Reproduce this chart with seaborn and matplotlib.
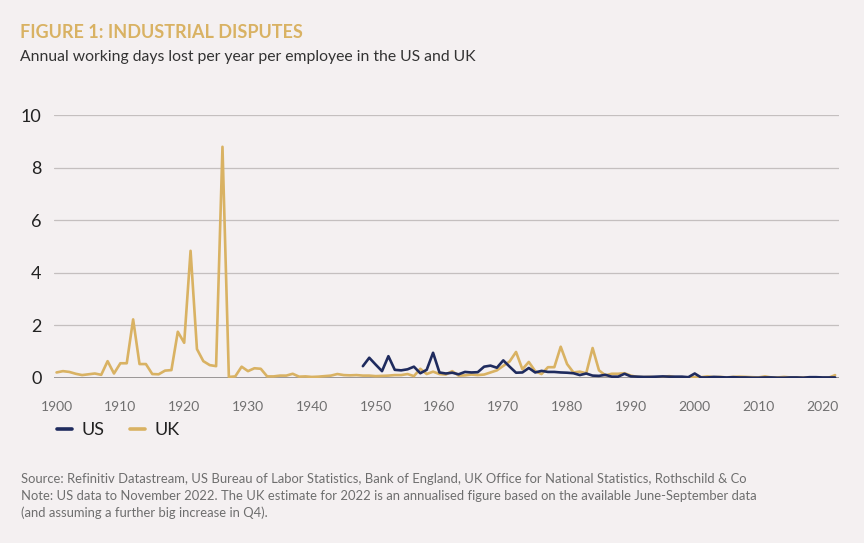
import matplotlib
matplotlib.use("Agg")
import matplotlib.pyplot as plt
import seaborn as sns
import pandas as pd

# --- data ---
UK_YEARS = list(range(1900, 2023))
UK_DAYS = [
    0.20, 0.25, 0.22, 0.15, 0.10, 0.13, 0.16, 0.11, 0.63, 0.16,   # 1900s
    0.55, 0.55, 2.22, 0.52, 0.52, 0.14, 0.13, 0.27, 0.29, 1.75,   # 1910s
    1.33, 4.83, 1.09, 0.63, 0.48, 0.44, 8.79, 0.03, 0.05, 0.42,   # 1920s
    0.25, 0.36, 0.34, 0.05, 0.05, 0.08, 0.08, 0.15, 0.04, 0.05,   # 1930s
    0.03, 0.04, 0.06, 0.08, 0.14, 0.10, 0.09, 0.10, 0.08, 0.08,   # 1940s
    0.06, 0.07, 0.08, 0.10, 0.10, 0.14, 0.06, 0.34, 0.14, 0.23,   # 1950s
    0.14, 0.12, 0.25, 0.08, 0.09, 0.12, 0.10, 0.12, 0.20, 0.28,   # 1960s
    0.45, 0.62, 0.98, 0.32, 0.60, 0.25, 0.14, 0.40, 0.40, 1.18,   # 1970s
    0.52, 0.20, 0.23, 0.17, 1.13, 0.28, 0.09, 0.15, 0.15, 0.17,   # 1980s
    0.08, 0.03, 0.02, 0.03, 0.01, 0.02, 0.06, 0.01, 0.01, 0.01,   # 1990s
    0.02, 0.02, 0.05, 0.02, 0.03, 0.01, 0.03, 0.04, 0.03, 0.02,   # 2000s
    0.01, 0.05, 0.01, 0.01, 0.03, 0.01, 0.01, 0.01, 0.01, 0.01,   # 2010s
    0.00, 0.00, 0.10,                                             # 2020s
]
US_YEARS = list(range(1948, 2023))
US_DAYS = [
    0.44, 0.76,                                                   # 1948-49
    0.50, 0.25, 0.82, 0.30, 0.28, 0.32, 0.42, 0.17, 0.30, 0.95,   # 1950s
    0.20, 0.16, 0.19, 0.13, 0.22, 0.20, 0.21, 0.42, 0.46, 0.38,   # 1960s
    0.66, 0.42, 0.19, 0.20, 0.37, 0.20, 0.26, 0.22, 0.22, 0.20,   # 1970s
    0.19, 0.17, 0.10, 0.16, 0.08, 0.07, 0.11, 0.04, 0.04, 0.15,   # 1980s
    0.05, 0.04, 0.03, 0.03, 0.04, 0.05, 0.04, 0.04, 0.04, 0.02,   # 1990s
    0.16, 0.01, 0.01, 0.03, 0.02, 0.01, 0.02, 0.01, 0.01, 0.00,   # 2000s
    0.00, 0.01, 0.01, 0.00, 0.00, 0.01, 0.01, 0.00, 0.02, 0.02,   # 2010s
    0.01, 0.01, 0.01,                                             # 2020s
]
SERIES = ["US", "UK"]
COLOURS = {"US": "#1f2b5e", "UK": "#d9b263"}
Y_TICKS = [0, 2, 4, 6, 8, 10]
X_TICKS = list(range(1900, 2021, 10))

TITLE = "FIGURE 1: INDUSTRIAL DISPUTES"
SUBTITLE = "Annual working days lost per year per employee in the US and UK"
NOTES = [
    "Source: Refinitiv Datastream, US Bureau of Labor Statistics, Bank of England, UK Office for National Statistics, Rothschild & Co",
    "Note: US data to November 2022. The UK estimate for 2022 is an annualised figure based on the available June-September data",
    "(and assuming a further big increase in Q4).",
]

df = pd.concat([
    pd.DataFrame({"year": US_YEARS, "days": US_DAYS, "country": "US"}),
    pd.DataFrame({"year": UK_YEARS, "days": UK_DAYS, "country": "UK"}),
])

# --- style ---
BG = "#f4f0f1"
sns.set_style("white")
plt.rcParams["font.family"] = ["Lato", "DejaVu Sans"]

fig = plt.figure(figsize=(8.64, 5.43), dpi=100, facecolor=BG)
ax = fig.add_axes([0.0625, 0.3044, 0.9085, 0.4838], facecolor=BG)

# UK drawn first so the US line sits on top
sns.lineplot(data=df, x="year", y="days", hue="country", hue_order=SERIES[::-1],
             palette=COLOURS, linewidth=1.9, ax=ax, legend=True)

ax.set_xlim(1899.6, 2022.6)
ax.set_ylim(0, 10)
ax.set_yticks(Y_TICKS)
ax.set_xticks(X_TICKS)
ax.set_xlabel("")
ax.set_ylabel("")
for s in ax.spines.values():
    s.set_visible(False)

for t in Y_TICKS[1:]:
    ax.axhline(t, color="#c4bfbf", linewidth=0.9, zorder=0)
ax.axhline(0, color="#9a9696", linewidth=1.4, zorder=1)

ax.tick_params(axis="y", length=0, pad=9, labelsize=13, labelcolor="#222222")
ax.tick_params(axis="x", length=0, pad=17, labelsize=10, labelcolor="#707070")

# legend below the axis, US first
handles, labels = ax.get_legend_handles_labels()
order = [labels.index(s) for s in SERIES]
leg = ax.legend([handles[i] for i in order], [labels[i] for i in order],
                loc="center left", bbox_to_anchor=(0.066, 0.208),
                bbox_transform=fig.transFigure, ncol=2, frameon=False,
                borderpad=0, borderaxespad=0,
                handlelength=0.85, handletextpad=0.5, columnspacing=1.4,
                fontsize=13, labelcolor="#222222")
for line in leg.get_lines():
    line.set_linewidth(2.6)

# titles and notes
fig.text(0.023, 1 - 33 / 543, TITLE, fontsize=13, fontweight="bold", color="#d9b263", va="center")
fig.text(0.023, 1 - 57 / 543, SUBTITLE, fontsize=11.3, color="#333333", va="center")
for i, line in enumerate(NOTES):
    fig.text(0.024, 1 - (479 + 17 * i) / 543, line, fontsize=9.4, color="#6e6e6e", va="center")

fig.savefig("out.png", dpi=100, facecolor=BG)
